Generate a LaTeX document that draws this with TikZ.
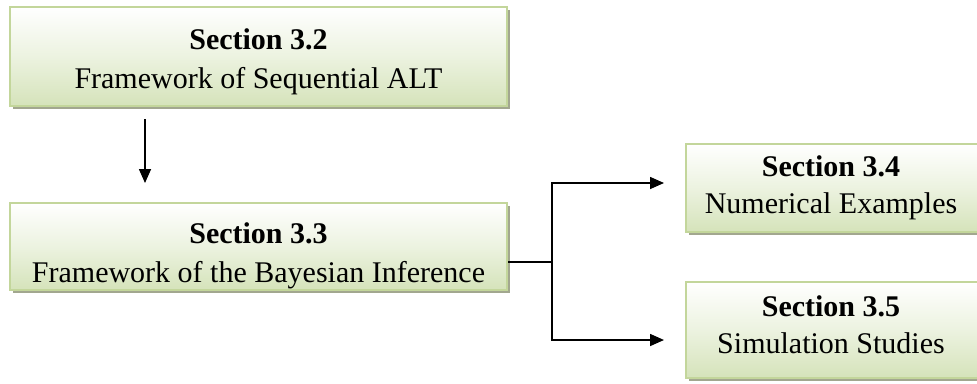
\documentclass[tikz,border=0pt]{standalone}
\usepackage{fontspec}
\setmainfont{Liberation Serif}
\usetikzlibrary{arrows.meta,shadows}
\definecolor{boxedge}{HTML}{C3D69B}
\definecolor{boxlow}{HTML}{D5E3BA}
\definecolor{boxshadow}{HTML}{A2A78F}
\tikzset{
  secbox/.style={rectangle, draw=boxedge, line width=2pt, inner sep=0pt,
    top color=white, bottom color=boxlow, middle color=white!55!boxlow,
    drop shadow={shadow xshift=3pt, shadow yshift=-3pt, fill=boxshadow, opacity=1}},
  sectitle/.style={anchor=base, inner sep=0pt, font=\fontsize{30}{36}\selectfont\bfseries},
  secname/.style={anchor=base, inner sep=0pt, font=\fontsize{30}{36}\selectfont},
  link/.style={line width=1.6pt, black},
  linkarrow/.style={link, -{Triangle[length=14pt,width=12pt]}}
}
\begin{document}
\begin{tikzpicture}[x=1pt,y=-1pt]
\useasboundingbox (0,0) rectangle (977,383);
\clip (0,0) rectangle (977,383);

% section boxes
\node[secbox, minimum width=497pt, minimum height=99pt] (b2) at (258.5,56.5) {};
\node[secbox, minimum width=497pt, minimum height=87pt] (b3) at (258.5,246.5) {};
\node[secbox, minimum width=293pt, minimum height=88pt] (b4) at (832.5,188) {};
\node[secbox, minimum width=293pt, minimum height=96pt] (b5) at (832.5,330) {};

% box texts
\node[sectitle] (t2) at (258.5,49) {Section 3.2};
\node[secname]  (n2) at (258.5,88) {Framework of Sequential ALT};
\node[sectitle] (t3) at (258.5,243) {Section 3.3};
\node[secname]  (n3) at (258.5,282) {Framework of the Bayesian Inference};
\node[sectitle] (t4) at (831,176) {Section 3.4};
\node[secname]  (n4) at (831,213) {Numerical Examples};
\node[sectitle] (t5) at (831,316) {Section 3.5};
\node[secname]  (n5) at (831,353) {Simulation Studies};

% connectors
\coordinate (down1) at (145,119);
\coordinate (down2) at (145,183);
\coordinate (fork) at (552,262);
\coordinate (to4) at (664,183);
\coordinate (to5) at (664,340);

\draw[linkarrow] (down1) -- (down2);
\draw[link] (b3.east |- fork) -- (fork);
\draw[linkarrow] (fork) |- (to4);
\draw[linkarrow] (fork) |- (to5);
\end{tikzpicture}
\end{document}
